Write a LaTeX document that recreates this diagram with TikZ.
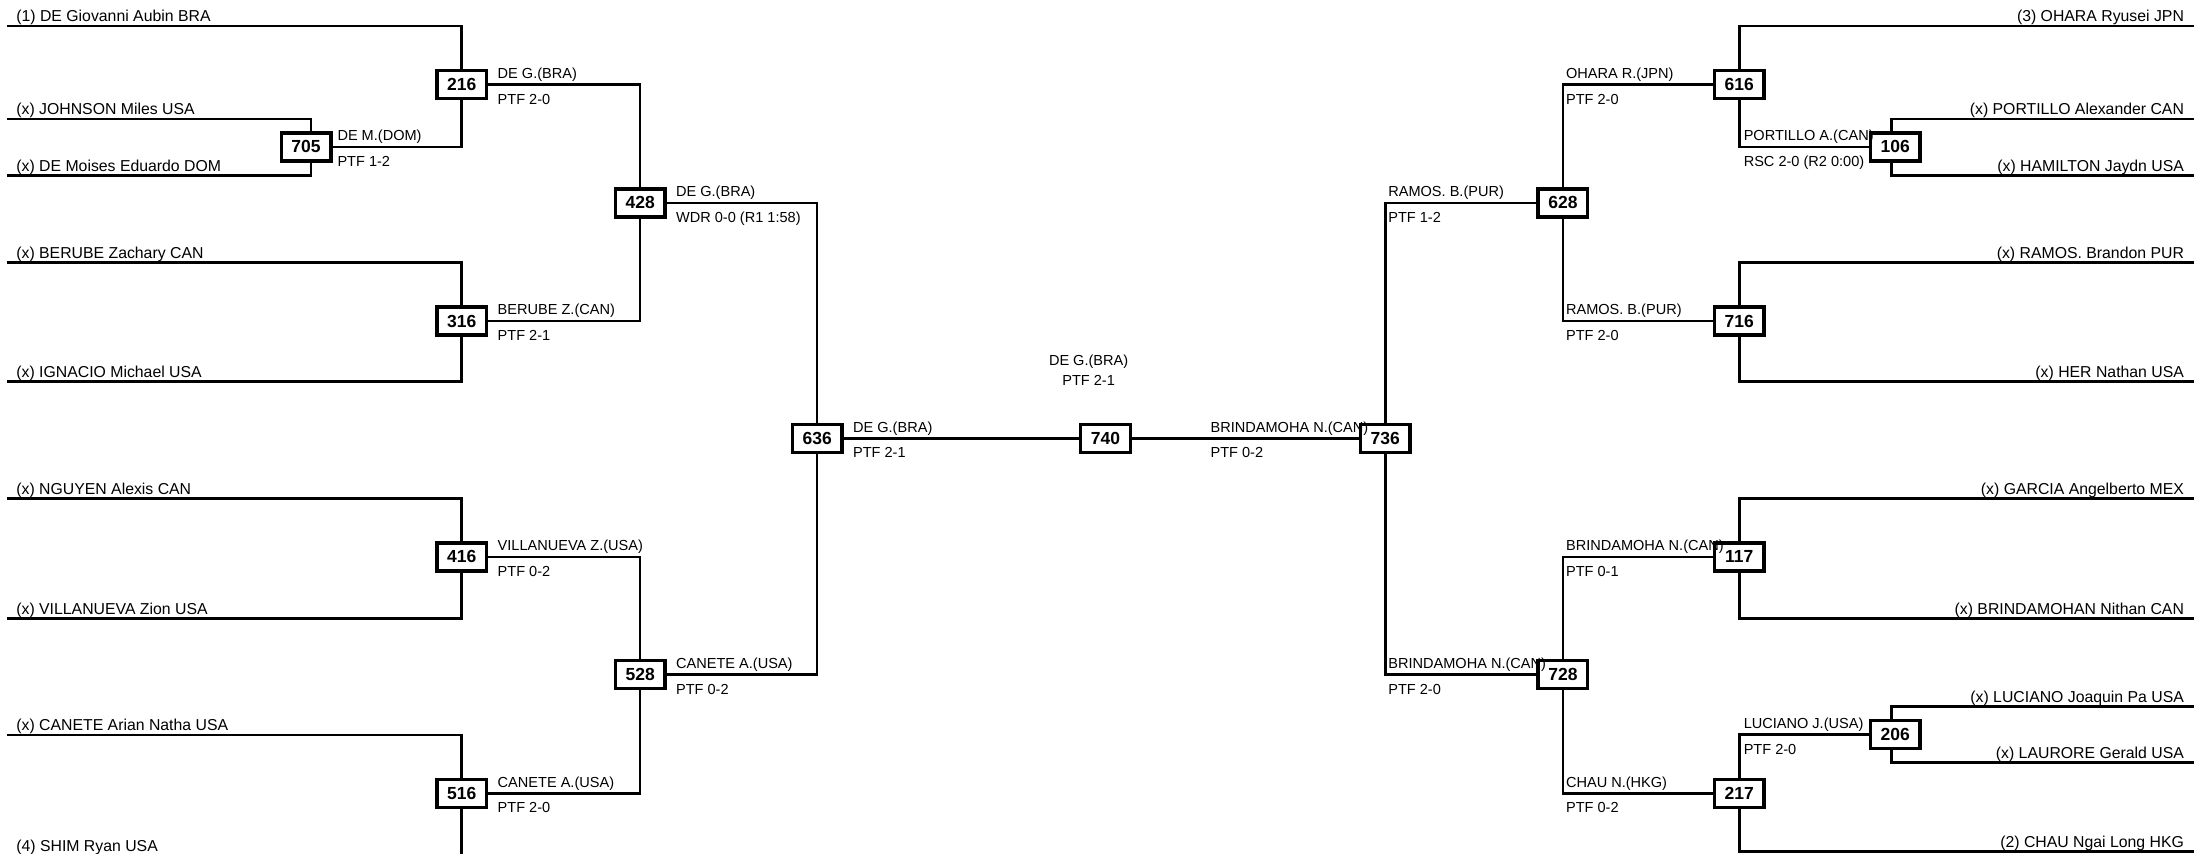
\documentclass[tikz,border=0pt]{standalone}
\usepackage{fontspec}
\setmainfont{Liberation Sans}
\begin{document}
\begin{tikzpicture}[x=1pt, y=-1pt,
        wire/.style={line width=1.9pt},
        bout/.style={draw, line width=2.4pt, fill=white, inner sep=0pt,
            minimum width=35.5pt, minimum height=20pt,
            font=\bfseries\fontsize{12.5}{14}\selectfont},
        boxer/.style={inner sep=0pt, font=\fontsize{11.3}{13}\selectfont},
        score/.style={inner sep=0pt, font=\fontsize{10.4}{12}\selectfont}]
    \useasboundingbox (0,0) rectangle (1568,610.3);

    \node[bout] (b705) at (218.7,105) {705};
    \node[bout] (b216) at (330,60.5) {216};
    \node[bout] (b316) at (330,229.5) {316};
    \node[bout] (b416) at (330,398) {416};
    \node[bout] (b516) at (330,567) {516};
    \node[bout] (b428) at (457.5,145) {428};
    \node[bout] (b528) at (457.5,482) {528};
    \node[bout] (b636) at (584,313.3) {636};
    \node[bout] (b740) at (790,313.3) {740};
    \node[bout] (b736) at (990,313.3) {736};
    \node[bout] (b628) at (1117,145) {628};
    \node[bout] (b728) at (1117,482) {728};
    \node[bout] (b616) at (1243,60.5) {616};
    \node[bout] (b716) at (1243,229.5) {716};
    \node[bout] (b117) at (1243,398) {117};
    \node[bout] (b217) at (1243,567) {217};
    \node[bout] (b106) at (1354.5,105) {106};
    \node[bout] (b206) at (1354.5,525) {206};

    \coordinate (l1) at (5,18.6);
    \coordinate (l2) at (5,85);
    \coordinate (l3) at (5,125.5);
    \coordinate (l4) at (5,187.5);
    \coordinate (l5) at (5,272.5);
    \coordinate (l6) at (5,356.2);
    \coordinate (l7) at (5,442);
    \coordinate (l8) at (5,525.3);
    \coordinate (l9) at (5,612);
    \coordinate (r1) at (1568,18.6);
    \coordinate (r2) at (1568,85);
    \coordinate (r3) at (1568,125.5);
    \coordinate (r4) at (1568,187.5);
    \coordinate (r5) at (1568,272.5);
    \coordinate (r6) at (1568,356.2);
    \coordinate (r7) at (1568,442);
    \coordinate (r8) at (1568,505);
    \coordinate (r9) at (1568,545);
    \coordinate (r10) at (1568,608.7);

    \node[boxer, anchor=base west] (n1) at (11.5,15.6) {(1) DE Giovanni Aubin BRA};
    \node[boxer, anchor=base west] (n2) at (11.5,82) {(x) JOHNSON Miles USA};
    \node[boxer, anchor=base west] (n3) at (11.5,122.5) {(x) DE Moises Eduardo DOM};
    \node[boxer, anchor=base west] (n4) at (11.5,184.5) {(x) BERUBE Zachary CAN};
    \node[boxer, anchor=base west] (n5) at (11.5,269.5) {(x) IGNACIO Michael USA};
    \node[boxer, anchor=base west] (n6) at (11.5,353.2) {(x) NGUYEN Alexis CAN};
    \node[boxer, anchor=base west] (n7) at (11.5,439) {(x) VILLANUEVA Zion USA};
    \node[boxer, anchor=base west] (n8) at (11.5,522.3) {(x) CANETE Arian Natha USA};
    \node[boxer, anchor=base west] (n9) at (11.5,608.7) {(4) SHIM Ryan USA};
    \node[boxer, anchor=base east] (m1) at (1561,15.6) {(3) OHARA Ryusei JPN};
    \node[boxer, anchor=base east] (m2) at (1561,82) {(x) PORTILLO Alexander CAN};
    \node[boxer, anchor=base east] (m3) at (1561,122.5) {(x) HAMILTON Jaydn USA};
    \node[boxer, anchor=base east] (m4) at (1561,184.5) {(x) RAMOS. Brandon PUR};
    \node[boxer, anchor=base east] (m5) at (1561,269.5) {(x) HER Nathan USA};
    \node[boxer, anchor=base east] (m6) at (1561,353.2) {(x) GARCIA Angelberto MEX};
    \node[boxer, anchor=base east] (m7) at (1561,439) {(x) BRINDAMOHAN Nithan CAN};
    \node[boxer, anchor=base east] (m8) at (1561,502) {(x) LUCIANO Joaquin Pa USA};
    \node[boxer, anchor=base east] (m9) at (1561,542) {(x) LAURORE Gerald USA};
    \node[boxer, anchor=base east] (m10) at (1561,605.5) {(2) CHAU Ngai Long HKG};

    \draw[wire] (l1) -| (b216);
    \draw[wire] (l2) -| ([xshift=3.6pt]b705.north);
    \draw[wire] (l3) -| ([xshift=3.6pt]b705.south);
    \draw[wire] (b705) -| (b216);
    \draw[wire] (l4) -| (b316);
    \draw[wire] (l5) -| (b316);
    \draw[wire] (l6) -| (b416);
    \draw[wire] (l7) -| (b416);
    \draw[wire] (l8) -| (b516);
    \draw[wire] (l9) -| (b516);
    \draw[wire] (b216) -| (b428);
    \draw[wire] (b316) -| (b428);
    \draw[wire] (b416) -| (b528);
    \draw[wire] (b516) -| (b528);
    \draw[wire] (b428) -| (b636);
    \draw[wire] (b528) -| (b636);
    \draw[wire] (b636) -- (b740);
    \draw[wire] (b736) -- (b740);
    \draw[wire] (r1) -| (b616);
    \draw[wire] (r2) -| ([xshift=-2.5pt]b106.north);
    \draw[wire] (r3) -| ([xshift=-2.5pt]b106.south);
    \draw[wire] (b106) -| (b616);
    \draw[wire] (r4) -| (b716);
    \draw[wire] (r5) -| (b716);
    \draw[wire] (r6) -| (b117);
    \draw[wire] (r7) -| (b117);
    \draw[wire] (r8) -| ([xshift=-2.5pt]b206.north);
    \draw[wire] (r9) -| ([xshift=-2.5pt]b206.south);
    \draw[wire] (b206) -| (b217);
    \draw[wire] (r10) -| (b217);
    \draw[wire] (b616) -| (b628);
    \draw[wire] (b716) -| (b628);
    \draw[wire] (b117) -| (b728);
    \draw[wire] (b217) -| (b728);
    \draw[wire] (b628) -| (b736);
    \draw[wire] (b728) -| (b736);

    \node[score, anchor=base west] (w705) at (241,100.5) {DE M.(DOM)};
    \node[score, anchor=base west] (s705) at (241,119) {PTF 1-2};
    \node[score, anchor=base west] (w216) at (355.5,56) {DE G.(BRA)};
    \node[score, anchor=base west] (s216) at (355.5,74.5) {PTF 2-0};
    \node[score, anchor=base west] (w316) at (355.5,225) {BERUBE Z.(CAN)};
    \node[score, anchor=base west] (s316) at (355.5,243.5) {PTF 2-1};
    \node[score, anchor=base west] (w416) at (355.5,393.5) {VILLANUEVA Z.(USA)};
    \node[score, anchor=base west] (s416) at (355.5,412) {PTF 0-2};
    \node[score, anchor=base west] (w516) at (355.5,562.5) {CANETE A.(USA)};
    \node[score, anchor=base west] (s516) at (355.5,581) {PTF 2-0};
    \node[score, anchor=base west] (w428) at (483,140.5) {DE G.(BRA)};
    \node[score, anchor=base west] (s428) at (483,159) {WDR 0-0 (R1 1:58)};
    \node[score, anchor=base west] (w528) at (483,477.5) {CANETE A.(USA)};
    \node[score, anchor=base west] (s528) at (483,496) {PTF 0-2};
    \node[score, anchor=base west] (w636) at (609.5,308.8) {DE G.(BRA)};
    \node[score, anchor=base west] (s636) at (609.5,327.3) {PTF 2-1};
    \node[score, anchor=base] (w740) at (778,261) {DE G.(BRA)};
    \node[score, anchor=base] (s740) at (778,275.7) {PTF 2-1};
    \node[score, anchor=base west] (w736) at (865,308.8) {BRINDAMOHA N.(CAN)};
    \node[score, anchor=base west] (s736) at (865,327.3) {PTF 0-2};
    \node[score, anchor=base west] (w628) at (992,140.5) {RAMOS. B.(PUR)};
    \node[score, anchor=base west] (s628) at (992,159) {PTF 1-2};
    \node[score, anchor=base west] (w728) at (992,477.5) {BRINDAMOHA N.(CAN)};
    \node[score, anchor=base west] (s728) at (992,496) {PTF 2-0};
    \node[score, anchor=base west] (w616) at (1119,56) {OHARA R.(JPN)};
    \node[score, anchor=base west] (s616) at (1119,74.5) {PTF 2-0};
    \node[score, anchor=base west] (w716) at (1119,225) {RAMOS. B.(PUR)};
    \node[score, anchor=base west] (s716) at (1119,243.5) {PTF 2-0};
    \node[score, anchor=base west] (w117) at (1119,393.5) {BRINDAMOHA N.(CAN)};
    \node[score, anchor=base west] (s117) at (1119,412) {PTF 0-1};
    \node[score, anchor=base west] (w217) at (1119,562.5) {CHAU N.(HKG)};
    \node[score, anchor=base west] (s217) at (1119,581) {PTF 0-2};
    \node[score, anchor=base west] (w106) at (1246,100.5) {PORTILLO A.(CAN)};
    \node[score, anchor=base west] (s106) at (1246,119) {RSC 2-0 (R2 0:00)};
    \node[score, anchor=base west] (w206) at (1246,520.5) {LUCIANO J.(USA)};
    \node[score, anchor=base west] (s206) at (1246,539) {PTF 2-0};
\end{tikzpicture}
\end{document}
